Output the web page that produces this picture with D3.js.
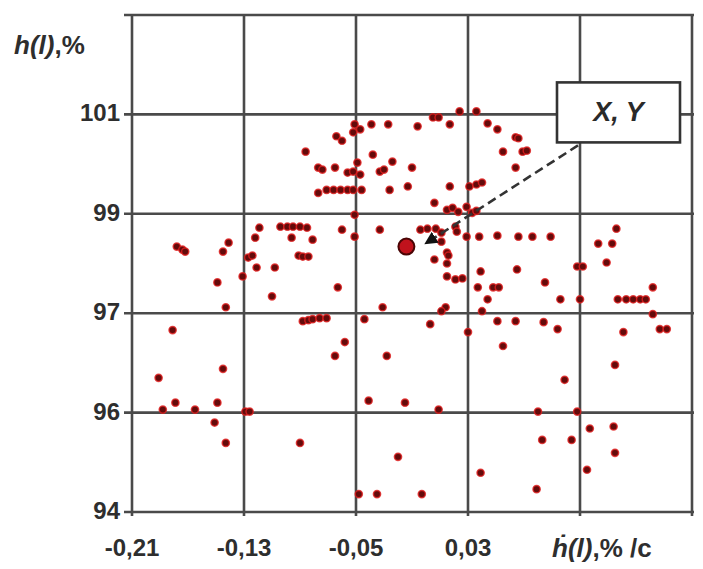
<!DOCTYPE html>
<html>
<head>
<meta charset="utf-8">
<script src="https://cdn.jsdelivr.net/npm/d3@7"></script>
<style>
  body { margin: 0; background: #fff; }
  svg text { font-family: "Liberation Sans", Arial, sans-serif; }
</style>
</head>
<body>
<div id="chart"></div>
<script>
// axis ticks (grid is evenly spaced, labels are not)
const xTicks = [-0.21, -0.13, -0.05, 0.03, 0.11, 0.19];
const xTickLabels = ["-0,21", "-0,13", "-0,05", "0,03", "", ""];
const yTicks = [94, 96, 97, 99, 101, 103];
const yTickLabels = ["94", "96", "97", "99", "101", ""];

// rate of change ḣ(l), %/c
const rate = [
  -0.051, -0.047, -0.052, -0.039, -0.027, -0.006, 0.005, 0.009, 0.017, 0.024,
  0.036, 0.044, 0.051, 0.064, 0.066, 0.055, 0.069, 0.072, 0.064, -0.064,
  -0.060, -0.086, -0.038, -0.024, -0.010, -0.049, -0.077, -0.074, -0.065, -0.056,
  -0.052, -0.047, -0.033, -0.030, -0.077, -0.071, -0.066, -0.061, -0.056, -0.052,
  -0.046, -0.026, -0.013, 0.017, 0.031, 0.036, 0.040, 0.006, 0.015, 0.019,
  0.023, 0.029, 0.033, 0.036, -0.051, -0.060, -0.051, -0.033, -0.004, 0.001,
  0.007, 0.011, 0.021, 0.022, 0.011, 0.029, 0.038, 0.051, 0.066, 0.076,
  0.089, 0.015, 0.006, 0.016, 0.015, 0.015, 0.021, 0.026, 0.039, 0.065,
  0.085, 0.037, 0.048, 0.052, 0.044, 0.096, 0.110, 0.108, 0.112, 0.136,
  0.123, 0.133, 0.129, 0.162, 0.137, 0.143, 0.148, 0.153, 0.157, -0.031,
  0.014, 0.011, 0.040, -0.119, -0.122, -0.104, -0.099, -0.095, -0.090, -0.085,
  -0.096, -0.081, -0.178, -0.174, -0.172, -0.141, -0.145, -0.127, -0.124, -0.091,
  -0.088, -0.084, -0.121, -0.108, -0.149, -0.131, -0.110, -0.063, -0.143, -0.088,
  -0.084, -0.081, -0.076, -0.071, -0.044, -0.181, -0.058, -0.065, -0.028, -0.145,
  -0.191, -0.179, -0.188, -0.165, -0.149, -0.129, -0.126, -0.151, -0.143, -0.090,
  -0.041, -0.020, -0.048, -0.035, -0.003, 0.079, 0.162, 0.167, 0.172, 0.141,
  0.003, 0.030, 0.051, 0.064, 0.084, 0.094, 0.055, 0.135, 0.099, -0.015,
  0.009, 0.080, 0.108, 0.117, 0.134, 0.083, 0.104, 0.135, 0.115, 0.039
];

// level h(l), %
const level = [
  100.80, 100.70, 100.64, 100.80, 100.80, 100.76, 100.94, 100.94, 100.80, 101.06,
  101.06, 100.82, 100.70, 100.54, 100.52, 100.25, 100.25, 100.27, 99.93, 100.56,
  100.47, 100.25, 100.19, 100.05, 99.93, 100.03, 99.93, 99.89, 99.93, 99.83,
  99.85, 99.79, 99.85, 99.89, 99.42, 99.48, 99.48, 99.48, 99.48, 99.48,
  99.48, 99.48, 99.55, 99.55, 99.55, 99.59, 99.63, 99.22, 99.08, 99.12,
  99.04, 99.14, 99.02, 99.06, 98.98, 98.68, 98.54, 98.68, 98.68, 98.70,
  98.70, 98.62, 98.74, 98.64, 98.44, 98.54, 98.54, 98.56, 98.54, 98.54,
  98.54, 98.22, 98.08, 98.16, 98.00, 97.74, 97.68, 97.70, 97.84, 97.88,
  97.62, 97.52, 97.52, 97.52, 97.28, 97.28, 97.28, 97.94, 97.94, 98.70,
  98.40, 98.40, 98.02, 97.52, 97.28, 97.28, 97.28, 97.28, 97.28, 97.12,
  97.12, 97.04, 97.04, 98.72, 98.52, 98.74, 98.74, 98.74, 98.74, 98.72,
  98.52, 98.48, 98.34, 98.28, 98.24, 98.42, 98.24, 98.12, 98.16, 98.16,
  98.14, 98.14, 97.92, 97.92, 97.62, 97.74, 97.34, 97.52, 97.12, 96.92,
  96.93, 96.94, 96.95, 96.95, 96.94, 96.83, 96.71, 96.57, 96.57, 96.44,
  96.35, 96.10, 96.03, 96.03, 96.10, 96.01, 96.01, 95.80, 95.39, 95.39,
  96.12, 95.11, 94.36, 94.36, 94.36, 94.46, 96.99, 96.84, 96.84, 96.81,
  96.89, 96.81, 96.92, 96.92, 96.91, 96.84, 96.67, 96.48, 96.33, 96.10,
  96.03, 96.01, 96.01, 95.68, 95.72, 95.45, 95.45, 95.19, 94.85, 94.79
];

// the highlighted point (X, Y)
const markRate = -0.014;
const markLevel = 98.34;

const width = 703, height = 569;
const margin = { top: 15, right: 11, bottom: 57, left: 132 };
const w = width - margin.left - margin.right;
const h = height - margin.top - margin.bottom;

const svg = d3.select("#chart").append("svg")
  .attr("width", width)
  .attr("height", height);

const g = svg.append("g")
  .attr("transform", `translate(${margin.left},${margin.top})`);

const x = d3.scaleLinear()
  .domain([xTicks[0], xTicks[xTicks.length - 1]])
  .range([0, w]);

// piecewise scale: uneven tick values on an even grid
const y = d3.scaleLinear()
  .domain(yTicks)
  .range(yTicks.map((d, i) => h - i * h / (yTicks.length - 1)));

const gridColor = "#4a4a4a";

// grid
g.append("g")
  .selectAll("line.gx")
  .data(xTicks)
  .join("line")
  .attr("x1", d => x(d)).attr("x2", d => x(d))
  .attr("y1", 0).attr("y2", h + 4)
  .attr("stroke", gridColor)
  .attr("stroke-width", 2.6);

g.append("g")
  .selectAll("line.gy")
  .data(yTicks)
  .join("line")
  .attr("x1", -8).attr("x2", w + 2)
  .attr("y1", d => y(d)).attr("y2", d => y(d))
  .attr("stroke", gridColor)
  .attr("stroke-width", 2.6);

// tick labels
g.append("g")
  .selectAll("text")
  .data(xTicks)
  .join("text")
  .attr("x", d => x(d))
  .attr("y", h + 44)
  .attr("text-anchor", "middle")
  .attr("font-size", 24)
  .attr("font-weight", "bold")
  .attr("fill", "#2e2e2e")
  .text((d, i) => xTickLabels[i]);

g.append("g")
  .selectAll("text")
  .data(yTicks)
  .join("text")
  .attr("x", -12)
  .attr("y", d => y(d) + 7)
  .attr("text-anchor", "end")
  .attr("font-size", 24)
  .attr("font-weight", "bold")
  .attr("fill", "#2e2e2e")
  .text((d, i) => yTickLabels[i]);

// axis titles
const yTitle = svg.append("text")
  .attr("x", 14).attr("y", 54)
  .attr("font-size", 26)
  .attr("font-weight", "bold")
  .attr("fill", "#2e2e2e");
yTitle.append("tspan").attr("font-style", "italic").text("h(l)");
yTitle.append("tspan").text(",%");

const xTitle = svg.append("text")
  .attr("x", 552).attr("y", 557)
  .attr("font-size", 26)
  .attr("font-weight", "bold")
  .attr("fill", "#2e2e2e");
xTitle.append("tspan").attr("font-style", "italic").text("ḣ(l)");
xTitle.append("tspan").text(",% /c");

// points
g.append("g")
  .selectAll("circle")
  .data(rate.map((r, i) => ({ r, l: level[i] })))
  .join("circle")
  .attr("cx", d => x(d.r))
  .attr("cy", d => y(d.l))
  .attr("r", 3.6)
  .attr("fill", "#640b0b")
  .attr("stroke", "rgba(225,30,30,0.8)")
  .attr("stroke-width", 1.5);

// callout box and leader
const bx = x(0.11) - 23, by = y(101) - 32, bw = 123, bh = 60;

svg.append("defs").append("marker")
  .attr("id", "arr")
  .attr("viewBox", "0 0 10 10")
  .attr("refX", 9).attr("refY", 5)
  .attr("markerWidth", 5).attr("markerHeight", 5)
  .attr("orient", "auto")
  .append("path")
  .attr("d", "M0,0L10,5L0,10z")
  .attr("fill", "#111");

g.append("line")
  .attr("x1", x(0.11) - 2).attr("y1", by + bh + 3)
  .attr("x2", x(markRate) + 19).attr("y2", y(markLevel) - 3)
  .attr("stroke", "#333")
  .attr("stroke-width", 2.6)
  .attr("stroke-dasharray", "9,5")
  .attr("marker-end", "url(#arr)");

g.append("circle")
  .attr("cx", x(markRate))
  .attr("cy", y(markLevel))
  .attr("r", 8)
  .attr("fill", "#c0121c")
  .attr("stroke", "#4a0505")
  .attr("stroke-width", 2);

g.append("rect")
  .attr("x", bx).attr("y", by)
  .attr("width", bw).attr("height", bh)
  .attr("fill", "#fff")
  .attr("stroke", "#333")
  .attr("stroke-width", 2.6);

g.append("text")
  .attr("x", bx + bw / 2).attr("y", by + bh / 2 + 9)
  .attr("text-anchor", "middle")
  .attr("font-family", "'Liberation Serif', 'DejaVu Serif', serif")
  .attr("font-style", "italic")
  .attr("font-weight", "bold")
  .attr("font-size", 27)
  .attr("fill", "#2a2a2a")
  .text("X, Y");
</script>
</body>
</html>
